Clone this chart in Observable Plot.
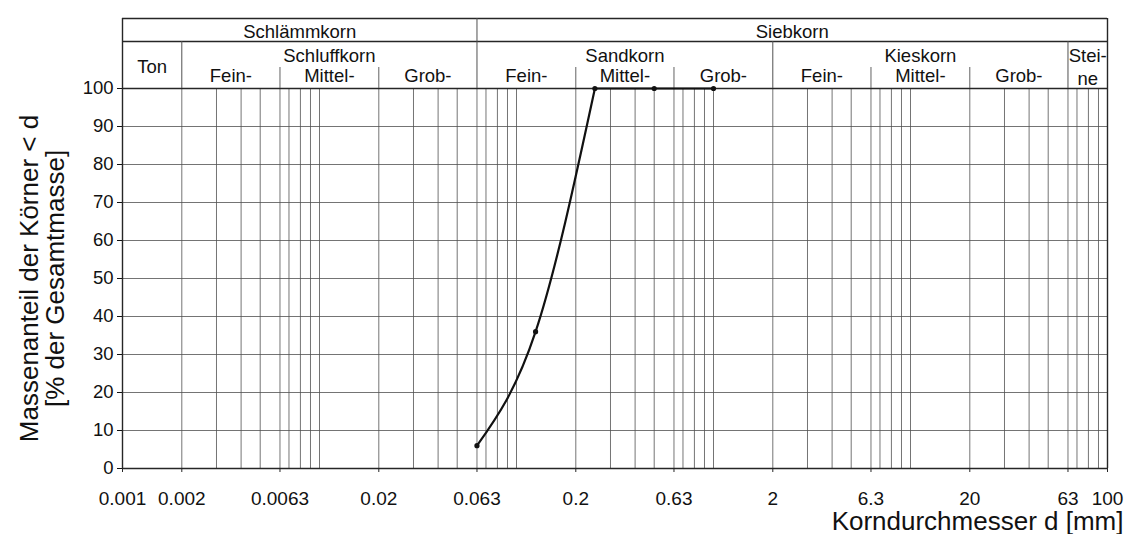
<!DOCTYPE html>
<html><head><meta charset="utf-8">
<script src="https://cdn.jsdelivr.net/npm/d3@7"></script>
<script src="https://cdn.jsdelivr.net/npm/@observablehq/plot@0.6"></script>
<style>body{margin:0;background:#fff}</style>
</head><body><div id="chart"></div>
<script>
// Sieve analysis (Kornverteilung)
const diameters = [0.063, 0.125, 0.25, 0.5, 1.0];
const passing = [6, 36, 100, 100, 100];

const xTickValues = [0.001, 0.002, 0.0063, 0.02, 0.063, 0.2, 0.63, 2, 6.3, 20, 63, 100];
const xTickLabels = ["0.001", "0.002", "0.0063", "0.02", "0.063", "0.2", "0.63", "2", "6.3", "20", "63", "100"];
const yTickValues = [0, 10, 20, 30, 40, 50, 60, 70, 80, 90, 100];

const gridDecades = [0.001, 0.01, 0.1, 1, 10];
const gridSteps = [1, 2, 3, 4, 5, 6.3, 7, 8, 9];

const groupLabels = ["Schlämmkorn", "Siebkorn"];
const groupBounds = [0.001, 0.063, 100];
const soilLabels = ["Ton", "Schluffkorn", "Sandkorn", "Kieskorn", "Stei-\nne"];
const soilBounds = [0.001, 0.002, 0.063, 2, 63, 100];
const fractionLabels = ["Fein-", "Mittel-", "Grob-"];
const fractionBounds = [[0.002, 0.0063, 0.02, 0.063], [0.063, 0.2, 0.63, 2], [2, 6.3, 20, 63]];

const yTitle = "Massenanteil der Körner < d\n[% der Gesamtmasse]";
const xTitle = "Korndurchmesser d [mm]";

// derived tables
const sieve = diameters.map((d, i) => ({d, p: passing[i]}));
const topIndex = passing.indexOf(100);
const rising = sieve.slice(0, topIndex + 1);
const plateau = sieve.slice(topIndex);
const xTicks = xTickValues.map((v, i) => ({v, label: xTickLabels[i]}));
const gridX = gridDecades.flatMap(dec => gridSteps.map(s => +(dec * s).toPrecision(3))).filter(v => v > 0.001 && v < 100);
const mid = (a, b) => Math.sqrt(a * b);
const groups = groupLabels.map((t, i) => ({t, x: mid(groupBounds[i], groupBounds[i + 1])}));
const soils = soilLabels.map((t, i) => ({t, x: mid(soilBounds[i], soilBounds[i + 1])}));
const fractions = fractionBounds.flatMap(b => fractionLabels.map((t, i) => ({t, x: mid(b[i], b[i + 1])})));
const fractionDividers = fractionBounds.flatMap(b => b.slice(1, 3));
const soilDividers = soilBounds.slice(1, -1).filter(v => !groupBounds.includes(v));

const LINE = "#262626", GRID = "#505050";

const chart = Plot.plot({
  width: 1131, height: 534,
  marginLeft: 122, marginRight: 24, marginTop: 88, marginBottom: 66,
  x: {type: "log", domain: [0.001, 100], axis: null},
  y: {domain: [0, 100], axis: null},
  style: {fontFamily: "'Liberation Sans', Arial, sans-serif", fontSize: "18.5px", color: "#111", background: "#fff"},
  marks: [
    // grid
    Plot.ruleX(gridX, {stroke: GRID, strokeWidth: 0.8}),
    Plot.ruleY(yTickValues.filter(v => v > 0 && v < 100), {stroke: GRID, strokeWidth: 0.8}),
    // frame & header lines
    Plot.ruleY([100], {stroke: LINE, strokeWidth: 1.5}),
    Plot.ruleY([100], {dy: -47, stroke: LINE, strokeWidth: 1.4}),
    Plot.ruleY([100], {dy: -70, stroke: LINE, strokeWidth: 1.3}),
    Plot.ruleY([0], {stroke: LINE, strokeWidth: 1.6}),
    Plot.ruleX([0.001, 100], {insetTop: -70, stroke: LINE, strokeWidth: 1.4}),
    Plot.ruleX([groupBounds[1]], {insetTop: -70, insetBottom: 380, stroke: GRID, strokeWidth: 1}),
    Plot.ruleX(soilDividers, {insetTop: -47, insetBottom: 380, stroke: GRID, strokeWidth: 1}),
    Plot.ruleX(fractionDividers, {insetTop: -21, insetBottom: 380, stroke: GRID, strokeWidth: 0.9}),
    // header text
    Plot.text(groups, {x: "x", text: "t", frameAnchor: "top", dy: -50.5, lineAnchor: "bottom"}),
    Plot.text(soils.filter(s => s.t === "Ton"), {x: "x", text: "t", frameAnchor: "top", dy: -15.5, lineAnchor: "bottom"}),
    Plot.text(soils.filter(s => s.t !== "Ton" && !s.t.includes("\n")), {x: "x", text: "t", frameAnchor: "top", dy: -27, lineAnchor: "bottom"}),
    Plot.text(soils.filter(s => s.t.includes("\n")), {x: "x", text: "t", frameAnchor: "top", dy: -3.5, lineAnchor: "bottom", lineHeight: 1.26}),
    Plot.text(fractions, {x: "x", text: "t", frameAnchor: "top", dy: -6.3, lineAnchor: "bottom"}),
    // axes
    Plot.axisY(yTickValues, {tickSize: 5, tickPadding: 4, label: null}),
    Plot.ruleX(xTickValues, {insetTop: 380, insetBottom: -4, stroke: LINE, strokeWidth: 1}),
    Plot.text(xTicks, {x: "v", text: "label", frameAnchor: "bottom", dy: 23, lineAnchor: "top", fontSize: 19}),
    // titles
    Plot.text([yTitle], {frameAnchor: "left", textAnchor: "middle", rotate: -90, dx: -80, fontSize: 26, lineHeight: 1.0, lineAnchor: "middle"}),
    Plot.text([xTitle], {frameAnchor: "bottom-right", textAnchor: "end", dx: 16, dy: 61, fontSize: 26, lineAnchor: "bottom"}),
    // data
    Plot.line(rising, {x: "d", y: "p", curve: "monotone-x", stroke: "#111", strokeWidth: 2.2}),
    Plot.line(plateau, {x: "d", y: "p", curve: "monotone-x", stroke: "#111", strokeWidth: 2.2}),
    Plot.dot(sieve, {x: "d", y: "p", r: 2.6, fill: "#111"})
  ]
});
document.getElementById("chart").append(chart);
</script>
</body></html>
